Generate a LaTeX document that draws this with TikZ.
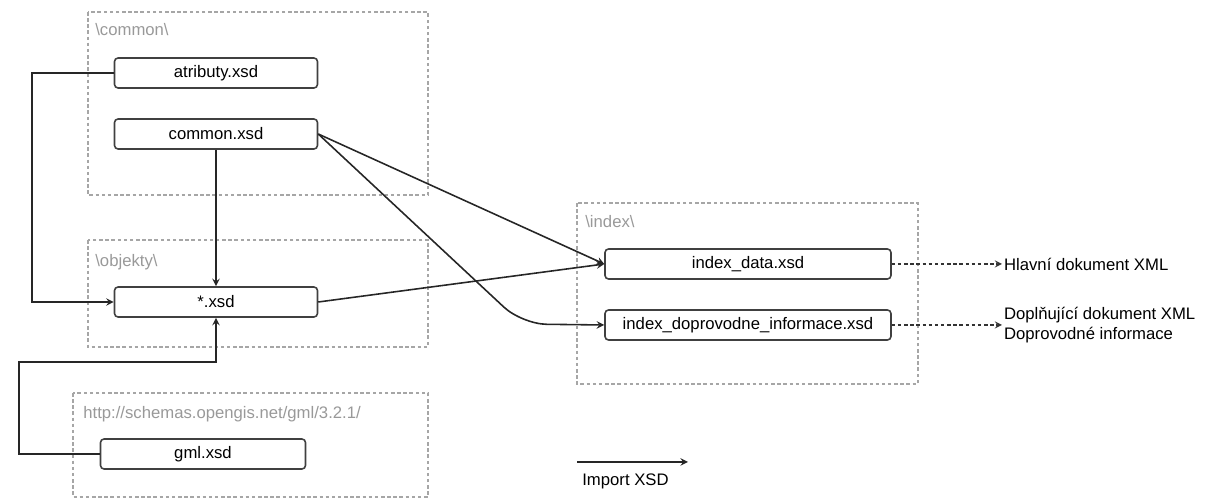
\documentclass[tikz,border=0pt]{standalone}
\usepackage{fontspec}
\setmainfont{Liberation Sans}
\usetikzlibrary{arrows}

\begin{document}
\begin{tikzpicture}[x=0.02cm,y=-0.02cm,font=\fontsize{9.5}{11.5}\selectfont,
    xsdbox/.style={draw=black!75,line width=0.9pt,rounded corners=2pt,fill=white,
      minimum height=0.6cm,inner sep=1pt},
    grp/.style={draw=black!35,dash pattern=on 2pt off 1.5pt,line width=0.6pt},
    grplabel/.style={anchor=west,text=black!40,inner sep=0pt},
    imp/.style={->,>=stealth,line width=0.9pt,black!85},
    doc/.style={->,>=stealth,line width=0.8pt,black!80,dash pattern=on 2pt off 1.5pt}]
    \useasboundingbox (0,0) rectangle (1205,499);

    % folders
    \draw[grp] (88,12) rectangle (428,195);
    \node[grplabel] (lcommon) at (95,30) {\textbackslash common\textbackslash};
    \draw[grp] (88,240) rectangle (428,347);
    \node[grplabel] (lobjekty) at (95,262) {\textbackslash objekty\textbackslash};
    \draw[grp] (73,393) rectangle (428,497);
    \node[grplabel] (lgml) at (83,414) {http://schemas.opengis.net/gml/3.2.1/};
    \draw[grp] (577,203) rectangle (918,384);
    \node[grplabel] (lindex) at (585,222) {\textbackslash index\textbackslash};

    % schemas
    \node[xsdbox,minimum width=4.06cm] (atr) at (216,73) {atributy.xsd};
    \node[xsdbox,minimum width=4.06cm] (com) at (216,134) {common.xsd};
    \node[xsdbox,minimum width=4.06cm] (star) at (216,302) {*.xsd};
    \node[xsdbox,minimum width=4.1cm] (gml) at (203,454) {gml.xsd};
    \node[xsdbox,minimum width=5.72cm] (idata) at (748,264) {index\_data.xsd};
    \node[xsdbox,minimum width=5.72cm] (idoc) at (748,325) {index\_doprovodne\_informace.xsd};

    % outputs
    \node[anchor=west,inner sep=1pt] (hlavni) at (1002,264) {Hlavní dokument XML};
    \node[anchor=west,align=left,inner sep=1pt] (dopl) at (1002,325)
      {Doplňující dokument XML\\Doprovodné informace};

    % imports
    \draw[imp] (atr.west) -- (32,73) |- (star.west);
    \draw[imp] (com.south) -- (star.north);
    \draw[imp] (gml.west) -- (19,454) -- (19,362) -| (star.south);
    \draw[imp] (com.east) -- (idata.west);
    \draw[imp,rounded corners=14pt] (com.east) -- (522,324) -- (idoc.west);
    \draw[imp] (star.east) -- (idata.west);
    \draw[doc] (idata.east) -- (hlavni.west);
    \draw[doc] (idoc.east) -- (dopl.west);

    % legend
    \coordinate (lgs) at (577,462);
    \coordinate (lge) at (688,462);
    \draw[imp] (lgs) -- (lge);
    \node[anchor=west,inner sep=0pt] (lgtext) at (582,481) {Import XSD};
\end{tikzpicture}
\end{document}
